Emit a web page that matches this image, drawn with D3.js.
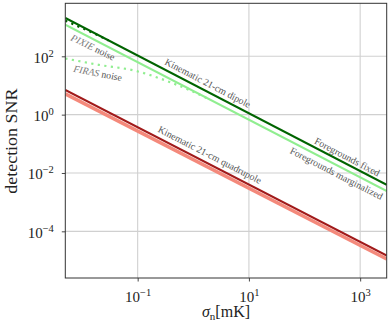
<!DOCTYPE html>
<html>
<head>
<meta charset="utf-8">
<script src="https://cdn.jsdelivr.net/npm/d3@7"></script>
<style>
  html, body { margin: 0; padding: 0; background: #fff; }
  svg { display: block; }
  text { font-family: "Liberation Serif", "Times New Roman", serif; }
</style>
</head>
<body>
<svg id="chart" width="391" height="326"></svg>
<script>
// ---- data ----
const sigmaEnds = [0.005, 3000];                 // mK
const dipoleFixed = [2056, 0.00396];            // Kinematic 21-cm dipole, foregrounds fixed
const dipoleMarg = [1211, 0.00241];             // Kinematic 21-cm dipole, foregrounds marginalized
const quadFixed = [7.0, 1.48e-5];               // Kinematic 21-cm quadrupole, fixed
const quadMarg = [5.18, 1.125e-5];              // Kinematic 21-cm quadrupole, marginalized

const pixieSigma = [0.005, 0.0075, 0.012, 0.03];
const pixieSNR = [1680, 1180, 800, 350];
const firasSigma = [0.005, 0.02, 0.09, 0.28, 0.5, 1.0, 2.0];
const firasSNR = [84, 51, 32, 16.2, 10.6, 6.1, 3.25];

const xTicks = [1e-1, 1e1, 1e3];
const xTickExp = ["\u22121", "1", "3"];
const yTicks = [1e2, 1e0, 1e-2, 1e-4];
const yTickExp = ["2", "0", "\u22122", "\u22124"];

const labelTexts = ["Kinematic 21-cm dipole", "PIXIE noise", "FIRAS noise",
  "Foregrounds fixed", "Foregrounds marginalized", "Kinematic 21-cm quadrupole"];
const labelSigma = [1.83, 0.0159, 0.0193, 586, 375, 1.99];
const labelSNR = [12.2, 213, 27.9, 0.0362, 0.00975, 0.0425];

// ---- layout ----
const L = 65.3, R = 386.7, T = 3.3, B = 278;
const svg = d3.select("#chart");
const x = d3.scaleLog().domain([0.005, 3000]).range([L, R]);
const y = d3.scaleLog().domain([Math.pow(10, -5.6), Math.pow(10, 3.817)]).range([B, T]);

svg.append("defs").append("clipPath").attr("id", "clip")
  .append("rect").attr("x", L).attr("y", T).attr("width", R - L).attr("height", B - T);

// grid
const grid = svg.append("g");
grid.selectAll("line.gx").data(xTicks).join("line")
  .attr("x1", d => x(d)).attr("x2", d => x(d)).attr("y1", T).attr("y2", B)
  .attr("stroke", "#d0d0d0").attr("stroke-width", 1.1);
grid.selectAll("line.gy").data(yTicks).join("line")
  .attr("y1", d => y(d)).attr("y2", d => y(d)).attr("x1", L).attr("x2", R)
  .attr("stroke", "#d0d0d0").attr("stroke-width", 1.1);

// lines
const plot = svg.append("g").attr("clip-path", "url(#clip)");
const line = d3.line().x(d => x(d[0])).y(d => y(d[1]));
const curve = d3.line().x(d => x(d[0])).y(d => y(d[1])).curve(d3.curveMonotoneX);
const zip = (a, b) => a.map((v, i) => [v, b[i]]);

const series = [
  { d: zip(sigmaEnds, quadMarg), c: "#f4897b", w: 3.6, gen: line },
  { d: zip(sigmaEnds, quadFixed), c: "#a11a1a", w: 2.0, gen: line },
  { d: zip(sigmaEnds, dipoleMarg), c: "#90ee90", w: 2.0, gen: line },
  { d: zip(sigmaEnds, dipoleFixed), c: "#006400", w: 2.2, gen: line },
  { d: zip(firasSigma, firasSNR), c: "#90ee90", w: 2.2, gen: curve, dash: "2.2,4.4" },
  { d: zip(pixieSigma, pixieSNR), c: "#006400", w: 2.2, gen: curve, dash: "2.2,4.4" }
];
series.forEach(s => {
  plot.append("path").attr("d", s.gen(s.d)).attr("fill", "none")
    .attr("stroke", s.c).attr("stroke-width", s.w)
    .attr("stroke-dasharray", s.dash || null);
});

// annotations
const angles = [27.6, 26, 11, 27.6, 27.3, 27.3];
labelTexts.forEach((t, i) => {
  const tx = svg.append("text")
    .attr("transform", `translate(${x(labelSigma[i])},${y(labelSNR[i])}) rotate(${angles[i]})`)
    .attr("text-anchor", "middle").attr("dominant-baseline", "central")
    .attr("font-size", 9.8).attr("fill", "#555");
  if (t.startsWith("PIXIE") || t.startsWith("FIRAS")) {
    const parts = t.split(" ");
    tx.append("tspan").attr("font-style", "italic").attr("fill", "#777").text(parts[0]);
    tx.append("tspan").text(" " + parts[1]);
  } else {
    tx.text(t);
  }
});

// axes
const xAxis = d3.axisBottom(x).tickValues(xTicks).tickFormat(() => "").tickSize(3.5).tickSizeOuter(0);
const yAxis = d3.axisLeft(y).tickValues(yTicks).tickFormat(() => "").tickSize(3.5).tickSizeOuter(0);
const gx = svg.append("g").attr("transform", `translate(0,${B})`).call(xAxis);
const gy = svg.append("g").attr("transform", `translate(${L},0)`).call(yAxis);
[gx, gy].forEach(g => {
  g.select(".domain").remove();
  g.selectAll(".tick line").attr("stroke", "#333").attr("stroke-width", 0.9);
});

gx.selectAll(".tick").each(function(d, i) {
  const t = d3.select(this).append("text")
    .attr("y", 23.5).attr("text-anchor", "middle").attr("fill", "#222")
    .attr("font-size", 15);
  t.append("tspan").text("10");
  t.append("tspan").attr("dy", -6).attr("font-size", 10.5).text(xTickExp[i]);
});
gy.selectAll(".tick").each(function(d, i) {
  const t = d3.select(this).append("text")
    .attr("x", -11.5).attr("y", 5.8).attr("text-anchor", "end").attr("fill", "#222")
    .attr("font-size", 15);
  t.append("tspan").text("10");
  t.append("tspan").attr("dy", -6).attr("font-size", 10.5).text(yTickExp[i]);
});

// frame
svg.append("rect").attr("x", L).attr("y", T).attr("width", R - L).attr("height", B - T)
  .attr("fill", "none").attr("stroke", "#333").attr("stroke-width", 1);

// axis titles
const xl = svg.append("text").attr("x", (L + R) / 2).attr("y", 317)
  .attr("text-anchor", "middle").attr("font-size", 16).attr("fill", "#222");
xl.append("tspan").attr("font-style", "italic").text("\u03C3");
xl.append("tspan").attr("font-size", 11).attr("dy", 3).text("n");
xl.append("tspan").attr("dy", -3).text("[mK]");

svg.append("text").attr("transform", `translate(17,${(T + B) / 2 + 0.5}) rotate(-90)`)
  .attr("text-anchor", "middle").attr("font-size", 16.5).attr("fill", "#222")
  .attr("textLength", 105).attr("lengthAdjust", "spacingAndGlyphs")
  .text("detection SNR");
</script>
</body>
</html>
